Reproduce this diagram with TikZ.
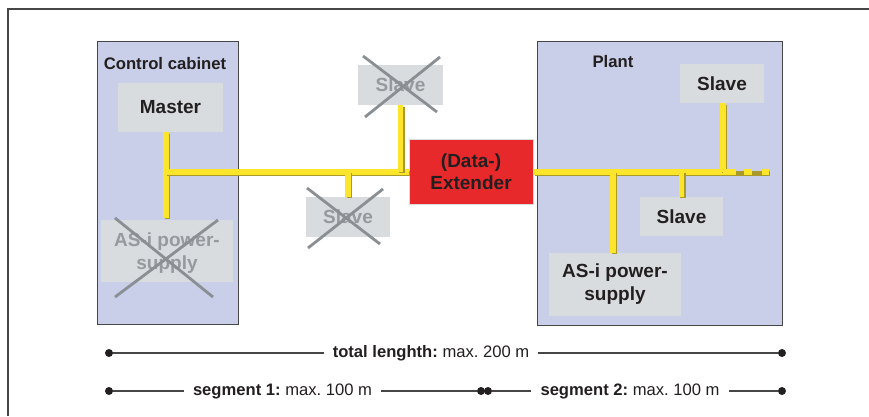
\documentclass[tikz,border=0pt]{standalone}
\usepackage{fontspec}
\setmainfont{Liberation Sans}
\frenchspacing
\definecolor{lav}{RGB}{201,206,233}
\definecolor{boxg}{RGB}{217,220,223}
\definecolor{redx}{RGB}{232,41,43}
\definecolor{yel}{RGB}{252,229,42}
\definecolor{yelsh}{RGB}{170,155,40}
\definecolor{txt}{RGB}{35,31,32}
\definecolor{crossg}{RGB}{138,143,147}
\definecolor{fadetxt}{RGB}{150,154,158}
\definecolor{frameg}{RGB}{70,70,70}
\tikzset{
  panel/.style={draw=frameg, line width=0.9pt, fill=lav, inner sep=0pt},
  devbox/.style={fill=boxg, inner sep=0pt, align=center, text=txt, font=\fontsize{19}{23}\selectfont\bfseries},
  gonebox/.style={devbox, text=fadetxt},
  extbox/.style={fill=redx, draw=boxg, line width=0.8pt, inner sep=0pt, align=center, text=txt, font=\fontsize{19}{22.5}\selectfont\bfseries},
  caption/.style={text=txt, font=\fontsize{16.7}{19}\selectfont\bfseries, inner sep=0pt},
  bus/.style={draw=yel, line width=5.5pt, preaction={draw=yelsh, line width=5.5pt, transform canvas={shift={(1.3pt,-1.3pt)}}}},
  crossline/.style={draw=crossg, line width=2.8pt},
  measure/.style={draw=frameg, line width=1.1pt},
  mtext/.style={text=txt, font=\fontsize{16.6}{19}\selectfont, inner xsep=9pt, inner ysep=0pt},
  enddot/.style={circle, fill=txt, inner sep=0pt, minimum size=8pt},
}
\begin{document}
\begin{tikzpicture}[x=1pt,y=-1pt]
\useasboundingbox (0,0) rectangle (869,416);
\fill[white] (0,0) rectangle (869,416);
\draw[frameg, line width=2pt] (8,416) -- (8,9) -- (869,9);

% panels
\node[panel, minimum width=141pt, minimum height=283pt] (cab) at (167.5,182.5) {};
\node[panel, minimum width=245pt, minimum height=284pt] (plant) at (659.5,183) {};
\node[caption] (cabl) at (165,64) {Control cabinet};
\node[caption] (plantl) at (613,62) {Plant};

% devices
\node[devbox, minimum width=105pt, minimum height=49pt] (master) at (170.5,107.5) {Master};
\node[gonebox, minimum width=132pt, minimum height=62pt, text depth=-1.5pt] (asil) at (167,251) {AS-i power-\\supply};
\node[gonebox, minimum width=85pt, minimum height=40pt] (slu) at (400.5,85) {Slave};
\node[gonebox, minimum width=84pt, minimum height=40pt] (sll) at (348,217) {Slave};
\node[extbox, minimum width=124pt, minimum height=65pt] (ext) at (471,171.5) {(Data-)\\Extender};
\node[devbox, minimum width=84pt, minimum height=39pt] (str) at (722,83.5) {Slave};
\node[devbox, minimum width=132pt, minimum height=63pt] (asir) at (615,284.5) {AS-i power-\\supply};
\node[devbox, minimum width=83pt, minimum height=39pt] (smr) at (681.5,216.5) {Slave};

% bus junctions
\coordinate (j1) at (166,172);
\coordinate (j2) at (723,172);
\coordinate (j3) at (613,172);
\coordinate (dotend) at (769,172);

% yellow bus
\draw[bus] (master.south -| j1) -- ([yshift=2pt]asil.north -| j1);
\draw[bus] (j1) -- (ext.west |- j1);
\draw[bus] (slu.south) -- (slu.south |- j1);
\draw[bus] (sll.north) -- (sll.north |- j1);
\draw[bus] (ext.east |- j1) -- (j2);
\draw[bus] (str.south -| j2) -- (j2);
\draw[bus] (j3) -- (asir.north -| j3);
\draw[bus] (smr.north) -- (smr.north |- j1);
\draw[bus, dash pattern=on 13pt off 8pt on 8pt off 10pt on 7pt off 20pt] (j2) -- (dotend);

% crosses
\draw[crossline] (115,218) -- (213,297);
\draw[crossline] (218,220) -- (115,297);
\draw[crossline] (363,56) -- (437,112);
\draw[crossline] (440,57) -- (365,117);
\draw[crossline] (307,188) -- (380,244);
\draw[crossline] (383,189) -- (308,248);

% measurements
\node[enddot] (t1) at (109,353) {};
\node[enddot] (t2) at (782,353) {};
\node[mtext] (tt) at (431,353) {\textbf{total lenghth:} max. 200 m};
\draw[measure] (t1) -- (tt.west);
\draw[measure] (tt.east) -- (t2);

\node[enddot] (s1) at (109,391) {};
\node[enddot] (s2a) at (481,391) {};
\node[enddot] (s2b) at (488,391) {};
\node[enddot] (s3) at (782,391) {};
\node[mtext] (st1) at (282.5,391) {\textbf{segment 1:} max. 100 m};
\node[mtext] (st2) at (630,391) {\textbf{segment 2:} max. 100 m};
\draw[measure] (s1) -- (st1.west);
\draw[measure] (st1.east) -- (s2a);
\draw[measure] (s2b) -- (st2.west);
\draw[measure] (st2.east) -- (s3);
\end{tikzpicture}
\end{document}
